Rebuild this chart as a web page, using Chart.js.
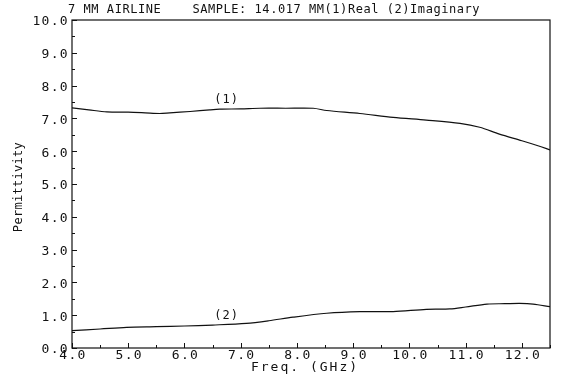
<!DOCTYPE html>
<html>
<head>
<meta charset="utf-8">
<script src="https://cdn.jsdelivr.net/npm/chart.js@4"></script>
<style>
  html, body { margin: 0; padding: 0; background: #fff; }
  canvas { display: block; }
</style>
</head>
<body>
<canvas id="chart" width="561" height="386"></canvas>
<script>
// (1) real part
const freqReal = [4.0, 4.3, 4.62, 5.0, 5.3, 5.56, 5.74, 6.1, 6.45, 6.63, 7.0, 7.34, 7.8, 8.29, 8.53, 9.12, 9.71, 10.3, 10.9, 11.25, 11.6, 12.0, 12.3, 12.5];
const permReal = [7.32, 7.26, 7.20, 7.19, 7.17, 7.15, 7.17, 7.21, 7.26, 7.28, 7.29, 7.31, 7.31, 7.31, 7.24, 7.15, 7.03, 6.95, 6.85, 6.73, 6.52, 6.32, 6.16, 6.04];
// (2) imaginary part
const freqImag = [4.0, 4.5, 4.97, 5.5, 6.0, 6.5, 7.1, 7.5, 7.93, 8.53, 9.12, 9.71, 10.3, 10.72, 11.0, 11.38, 11.7, 11.96, 12.2, 12.5];
const permImag = [0.53, 0.58, 0.63, 0.65, 0.67, 0.70, 0.75, 0.83, 0.94, 1.06, 1.11, 1.11, 1.18, 1.19, 1.25, 1.34, 1.35, 1.36, 1.34, 1.26];

const yTicks = [0, 1, 2, 3, 4, 5, 6, 7, 8, 9, 10];
const xTicks = [4, 5, 6, 7, 8, 9, 10, 11, 12];

const titleText = '7 MM AIRLINE    SAMPLE: 14.017 MM(1)Real (2)Imaginary';
const xTitle = 'Freq. (GHz)';
const yTitle = 'Permittivity';

const ink = '#111';
const mono = '"DejaVu Sans Mono", "Liberation Mono", monospace';

const toPoints = (xs, ys) => xs.map((x, i) => ({ x: x, y: ys[i] }));

const plotterPlugin = {
  id: 'plotter',
  afterDraw(chart) {
    const ctx = chart.ctx;
    const area = chart.chartArea;
    const xs = chart.scales.x;
    const ys = chart.scales.y;
    ctx.save();
    ctx.strokeStyle = ink;
    ctx.fillStyle = ink;
    ctx.lineWidth = 1.2;
    ctx.strokeRect(area.left, area.top, area.right - area.left, area.bottom - area.top);

    // inward ticks
    ctx.lineWidth = 1;
    ctx.beginPath();
    ys.ticks.forEach(t => {
      const y = Math.round(ys.getPixelForValue(t.value)) + 0.5;
      const len = Number.isInteger(t.value) ? 5 : 3;
      ctx.moveTo(area.left, y);
      ctx.lineTo(area.left + len, y);
    });
    xs.ticks.forEach(t => {
      const x = Math.round(xs.getPixelForValue(t.value)) + 0.5;
      const len = Number.isInteger(t.value) ? 5 : 3;
      ctx.moveTo(x, area.bottom);
      ctx.lineTo(x, area.bottom - len);
    });
    ctx.stroke();

    // tick labels
    ctx.font = '13px ' + mono;
    ctx.letterSpacing = '1.3px';
    ctx.textBaseline = 'middle';
    ctx.textAlign = 'right';
    yTicks.forEach(v => {
      ctx.fillText(v.toFixed(1), area.left - 3, ys.getPixelForValue(v) + 2);
    });
    ctx.textAlign = 'center';
    xTicks.forEach(v => {
      ctx.fillText(v.toFixed(1), xs.getPixelForValue(v) + 1, area.bottom + 8);
    });

    // axis titles
    ctx.letterSpacing = '2px';
    ctx.fillText(xTitle, (area.left + area.right) / 2 - 6, area.bottom + 20);
    ctx.save();
    ctx.translate(19, (area.top + area.bottom) / 2 + 3);
    ctx.rotate(-Math.PI / 2);
    ctx.font = '12px ' + mono;
    ctx.letterSpacing = '0.3px';
    ctx.fillText(yTitle, 0, 0);
    ctx.restore();

    // chart title
    ctx.font = '12px ' + mono;
    ctx.letterSpacing = '0.55px';
    ctx.textAlign = 'left';
    ctx.fillText(titleText, 68, 10);

    // curve labels
    ctx.letterSpacing = '1px';
    ctx.textAlign = 'center';
    ctx.fillText('(1)', xs.getPixelForValue(6.75), ys.getPixelForValue(7.55));
    ctx.fillText('(2)', xs.getPixelForValue(6.75), ys.getPixelForValue(0.97));
    ctx.restore();
  }
};

new Chart(document.getElementById('chart').getContext('2d'), {
  type: 'scatter',
  data: {
    datasets: [
      {
        label: '(1) Real',
        data: toPoints(freqReal, permReal),
        showLine: true,
        borderColor: ink,
        borderWidth: 1.2,
        pointRadius: 0,
        tension: 0.3
      },
      {
        label: '(2) Imaginary',
        data: toPoints(freqImag, permImag),
        showLine: true,
        borderColor: ink,
        borderWidth: 1.2,
        pointRadius: 0,
        tension: 0.3
      }
    ]
  },
  options: {
    responsive: false,
    animation: false,
    layout: { padding: { top: 20, right: 11, left: 0, bottom: 0 } },
    plugins: {
      legend: { display: false },
      tooltip: { enabled: false },
      title: { display: false }
    },
    scales: {
      x: {
        type: 'linear',
        min: 4,
        max: 12.5,
        ticks: { display: false, stepSize: 0.5 },
        grid: { display: false },
        border: { display: false },
        afterFit: s => { s.height = 38; }
      },
      y: {
        type: 'linear',
        min: 0,
        max: 10,
        ticks: { display: false, stepSize: 0.5 },
        grid: { display: false },
        border: { display: false },
        afterFit: s => { s.width = 72; }
      }
    }
  },
  plugins: [plotterPlugin]
});
</script>
</body>
</html>
